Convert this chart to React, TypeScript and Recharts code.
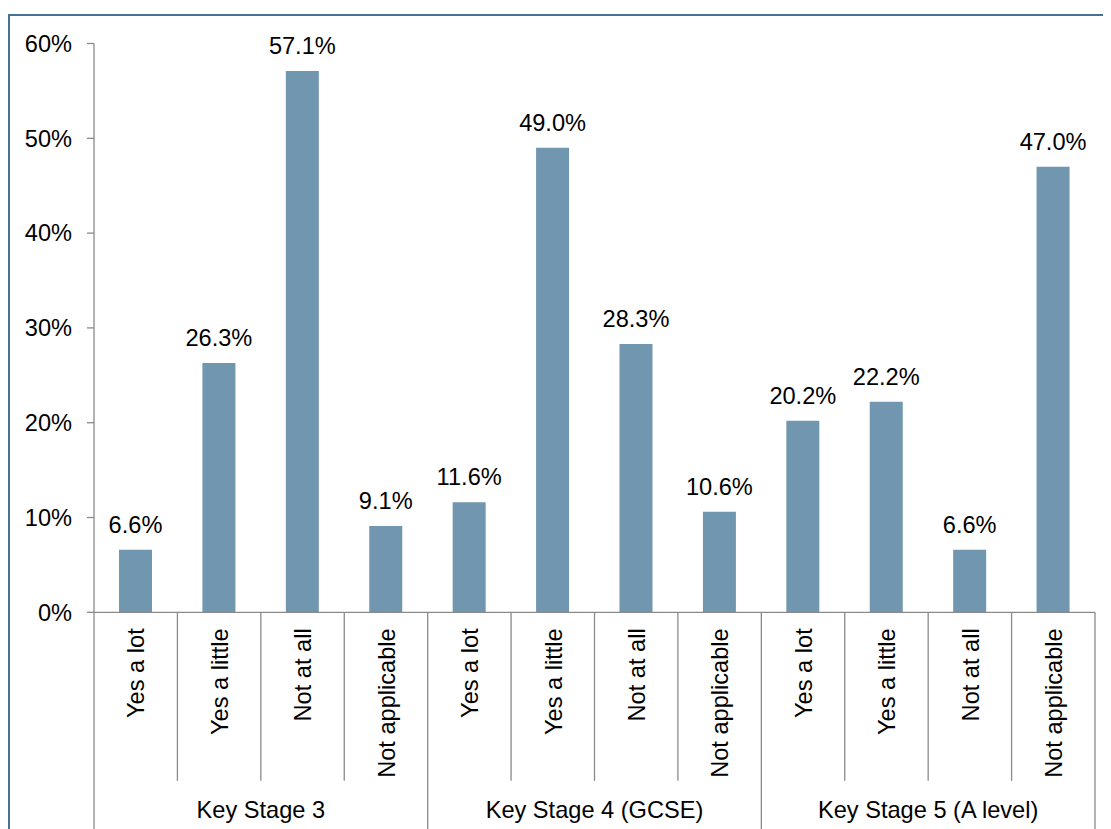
import React from "react";
import { Bar, BarChart, LabelList, XAxis, YAxis } from "recharts";

const groups = ["Key Stage 3", "Key Stage 4 (GCSE)", "Key Stage 5 (A level)"];
const answers = ["Yes a lot", "Yes a little", "Not at all", "Not applicable"];
const ks3 = [6.6, 26.3, 57.1, 9.1];
const ks4 = [11.6, 49.0, 28.3, 10.6];
const ks5 = [20.2, 22.2, 6.6, 47.0];
const yTicks = [0, 10, 20, 30, 40, 50, 60];

const data = [ks3, ks4, ks5].flatMap((vals, g) =>
  vals.map((v, i) => ({ key: `${g}-${i}`, answer: answers[i], group: groups[g], value: v }))
);

const W = 1103;
const H = 821;
const M = { top: 35.5, right: 16, left: 0, bottom: 16.7 };
const Y_W = 86;
const X_H = 200;
const PLOT_W = W - M.left - M.right - Y_W;
const FONT = "'Liberation Sans', Arial, sans-serif";
const FS = 23.6;
const GRAY = "#8a8a8a";

function CatTick(props: any) {
  const { x, y, payload, index } = props;
  const band = PLOT_W / data.length;
  const left = x - band / 2;
  const right = x + band / 2;
  const inGroup = index % 4;
  const row = data[index];
  return (
    <g>
      <text
        x={x}
        y={y + 16}
        dy="0.37em"
        textAnchor="end"
        transform={`rotate(-90, ${x}, ${y + 16})`}
        fontSize={FS}
        fontFamily={FONT}
        fill="#000"
      >
        {payload.value}
      </text>
      <line x1={left} x2={left} y1={y} y2={inGroup === 0 ? y + X_H + M.bottom : y + 168.5} stroke={GRAY} strokeWidth={1.3} />
      {index === data.length - 1 && (
        <line x1={right} x2={right} y1={y} y2={y + X_H + M.bottom} stroke={GRAY} strokeWidth={1.3} />
      )}
      {inGroup === 1 && (
        <text x={right} y={y + 206} textAnchor="middle" fontSize={FS} fontFamily={FONT} fill="#000">
          {row.group}
        </text>
      )}
    </g>
  );
}

export default function App() {
  return (
    <div style={{ position: "relative", width: W, height: H }}>
      <div
        style={{
          position: "absolute",
          left: 0,
          top: 6,
          width: 1110,
          height: 830,
          borderTop: "2px solid #44739a",
          borderLeft: "2px solid #44739a",
          boxSizing: "border-box",
        }}
      />
      <div style={{ position: "absolute", left: 0, top: 0 }}>
        <BarChart width={W} height={H} data={data} margin={M} barCategoryGap={0}>
          <XAxis
            dataKey="answer"
            interval={0}
            height={X_H}
            tickSize={0}
            tickMargin={0}
            tickLine={false}
            axisLine={{ stroke: GRAY, strokeWidth: 1.3 }}
            tick={<CatTick />}
          />
          <YAxis
            width={Y_W}
            domain={[0, 60]}
            ticks={yTicks}
            tickFormatter={(v: number) => `${v}%`}
            tickSize={7}
            tickMargin={15}
            axisLine={{ stroke: GRAY, strokeWidth: 1.3 }}
            tickLine={{ stroke: GRAY, strokeWidth: 1.3 }}
            tick={{ fontSize: FS, fontFamily: FONT, fill: "#000" }}
          />
          <Bar dataKey="value" fill="#7096b0" barSize={33} isAnimationActive={false}>
            <LabelList
              dataKey="value"
              position="top"
              offset={17}
              formatter={(v: any) => `${Number(v).toFixed(1)}%`}
              style={{ fontSize: FS, fontFamily: FONT, fill: "#000" }}
            />
          </Bar>
        </BarChart>
      </div>
    </div>
  );
}
